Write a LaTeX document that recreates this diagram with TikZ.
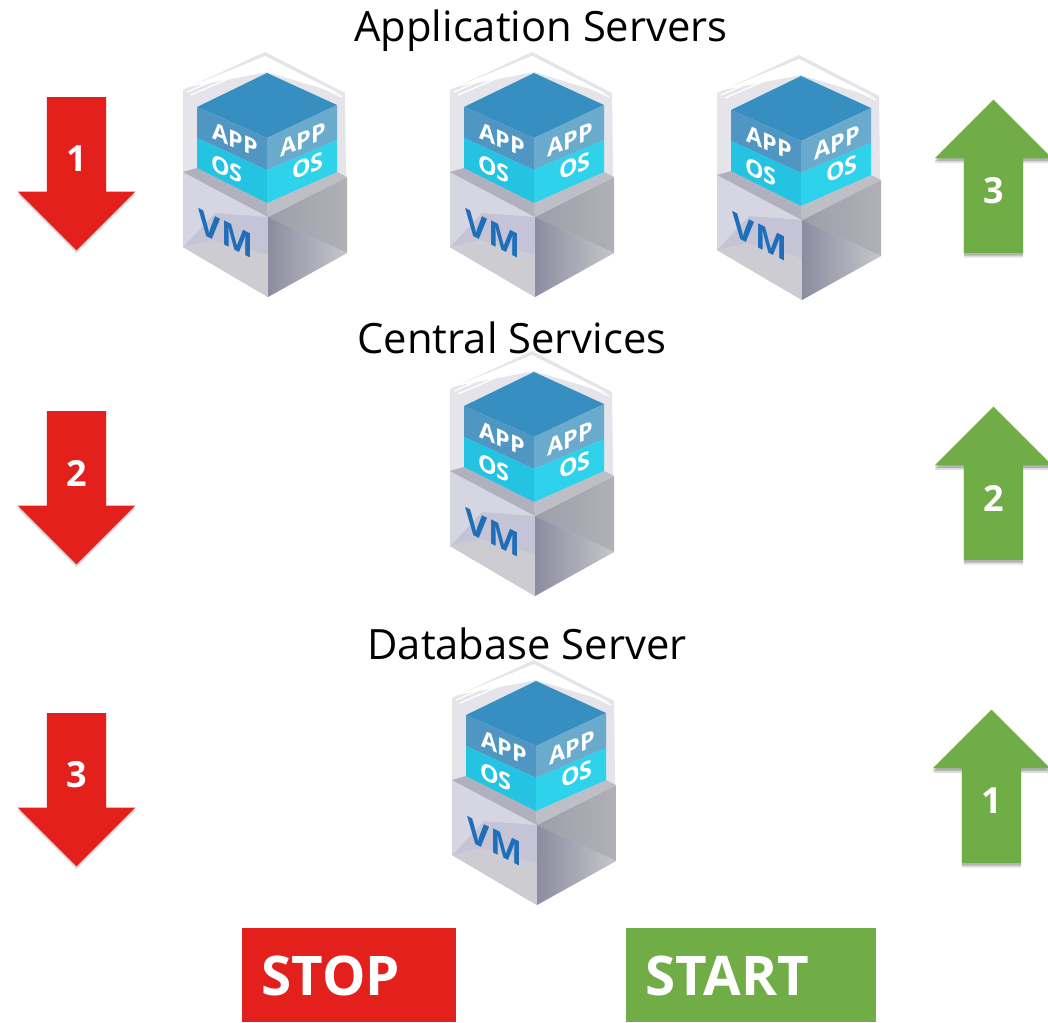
\documentclass[tikz,border=0pt]{standalone}
\usepackage{fontspec}
\setmainfont{Open Sans}
\usetikzlibrary{shapes.arrows,shadows}

\newcommand{\vmStack}[3]{
\begin{scope}[shift={(#1,#2)}]
\fill[backPanel] (13,40) -- (95,2) -- (175,43) -- (177,203) -- (98,247) -- (13,197) -- cycle;
\fill[white] (19,37) -- (95,6) -- (170,44) -- (97,22) -- cycle;
\draw[panelEdge] (17,42) -- (94,9) -- (172,47);
\draw[panelEdge] (21,45) -- (93,14);
\fill[vmLeftFace] (13,122) -- (98,167) -- (98,247) -- (13,197) -- cycle;
\fill[vmLeftTop] (13,122) -- (98,167) -- (45,163) -- (13,197) -- cycle;
\fill[vmLeftBottom] (13,197) -- (43,190) -- (98,205) -- (98,247) -- cycle;
\shade[vmRightTop] (98,167) -- (177,127) -- (177,203) -- cycle;
\shade[vmRightBottom] (98,167) -- (177,203) -- (98,247) -- cycle;
\fill[collarLeft] (13,122) -- (27,118) -- (97,153) -- (98,167) -- cycle;
\fill[collarRight] (98,167) -- (97,153) -- (167,122) -- (177,127) -- cycle;
\fill[cubeTop] (27,57) -- (97,23) -- (167,55) -- (97,88) -- cycle;
\fill[appLeft] (27,57) -- (97,88) -- (97,120) -- (27,88) -- cycle;
\fill[appRight] (97,88) -- (167,55) -- (167,90) -- (97,120) -- cycle;
\fill[osLeft] (27,88) -- (97,120) -- (97,153) -- (27,118) -- cycle;
\fill[osRight] (97,120) -- (167,90) -- (167,122) -- (97,153) -- cycle;
\node[faceText,yslant=-.42] (app#3l) at (65,90) {APP};
\node[faceText,yslant=.42] (app#3r) at (133,90) {APP};
\node[faceText,yslant=-.42] (os#3l) at (57,119) {OS};
\node[faceText,yslant=.42] (os#3r) at (138,116) {OS};
\node[vmText,yslant=-.5] (vm#3) at (56,184) {VM};
\end{scope}
}

\begin{document}
\begin{tikzpicture}[x=0.75pt,y=-0.75pt]
\tikzstyle{backPanel}=[fill={rgb,255:red,228; green,228; blue,234}]
\tikzstyle{panelEdge}=[draw=white,line width=1pt]
\tikzstyle{vmLeftFace}=[fill={rgb,255:red,196; green,196; blue,214}]
\tikzstyle{vmLeftTop}=[fill={rgb,255:red,214; green,214; blue,226}]
\tikzstyle{vmLeftBottom}=[fill={rgb,255:red,204; green,204; blue,210}]
\tikzstyle{vmRightTop}=[left color={rgb,255:red,158; green,158; blue,170},right color={rgb,255:red,176; green,176; blue,182}]
\tikzstyle{vmRightBottom}=[left color={rgb,255:red,140; green,140; blue,160},right color={rgb,255:red,198; green,198; blue,204}]
\tikzstyle{collarLeft}=[fill={rgb,255:red,176; green,176; blue,190}]
\tikzstyle{collarRight}=[fill={rgb,255:red,190; green,190; blue,198}]
\tikzstyle{cubeTop}=[fill={rgb,255:red,54; green,143; blue,192}]
\tikzstyle{appLeft}=[fill={rgb,255:red,80; green,150; blue,195}]
\tikzstyle{appRight}=[fill={rgb,255:red,105; green,170; blue,205}]
\tikzstyle{osLeft}=[fill={rgb,255:red,35; green,195; blue,225}]
\tikzstyle{osRight}=[fill={rgb,255:red,46; green,210; blue,235}]
\tikzstyle{faceText}=[text=white,font=\bfseries\fontsize{17.5}{17.5}\selectfont,inner sep=0pt,transform shape]
\tikzstyle{vmText}=[text={rgb,255:red,30; green,110; blue,185},font=\bfseries\fontsize{25.5}{25.5}\selectfont,inner sep=0pt,transform shape]
\tikzstyle{tierLabel}=[font=\fontsize{31.3}{31.3}\selectfont,inner sep=0pt]
\tikzstyle{softShadow}=[drop shadow={shadow xshift=0pt,shadow yshift=-3.5pt,opacity=.12,fill=black},drop shadow={shadow xshift=0pt,shadow yshift=-2pt,opacity=.2,fill=black}]
\tikzstyle{faintShadow}=[drop shadow={shadow xshift=0pt,shadow yshift=-2pt,opacity=.15,fill=black}]
\tikzstyle{stopArrow}=[single arrow,shape border rotate=270,single arrow head extend=22pt,single arrow head indent=0pt,text width=44pt,align=center,minimum height=115pt,inner sep=0pt,fill={rgb,255:red,228; green,32; blue,28},text=white,font=\bfseries\fontsize{27}{27}\selectfont,faintShadow]
\tikzstyle{startArrow}=[single arrow,shape border rotate=90,single arrow head extend=22pt,single arrow head indent=0pt,text width=44pt,align=center,minimum height=115pt,inner sep=0pt,fill={rgb,255:red,112; green,173; blue,71},text=white,font=\bfseries\fontsize{27}{27}\selectfont,softShadow]
\tikzstyle{stopBox}=[fill={rgb,255:red,228; green,32; blue,28},minimum width=160pt,minimum height=71pt,inner sep=0pt]
\tikzstyle{startBox}=[fill={rgb,255:red,112; green,173; blue,71},minimum width=187pt,minimum height=71pt,inner sep=0pt]
\tikzstyle{boxText}=[text=white,font=\bfseries\fontsize{41}{41}\selectfont,inner sep=0pt]
\useasboundingbox (0,0) rectangle (1048,1023);
\node[tierLabel] (appservers) at (541,31) {Application Servers};
\node[tierLabel] (central) at (512,338) {Central Services};
\node[tierLabel] (database) at (527,644) {Database Server};
\vmStack{170}{50}{a}
\vmStack{437}{50}{b}
\vmStack{704}{53}{c}
\vmStack{437}{349}{d}
\vmStack{439}{658}{e}
\node[stopArrow] (stop1) at (76.5,159) {1};
\node[stopArrow] (stop2) at (76.5,473) {2};
\node[stopArrow] (stop3) at (76.5,775) {3};
\node[startArrow] (start3) at (993.5,191) {3};
\node[startArrow] (start2) at (993.5,498) {2};
\node[startArrow] (start1) at (991.5,801) {1};
\node[stopBox] (stop) at (349,975) {};
\node[startBox] (start) at (751,975) {};
\node[boxText] (stoptext) at (331,976) {STOP};
\node[boxText] (starttext) at (727,976) {START};
\end{tikzpicture}
\end{document}
